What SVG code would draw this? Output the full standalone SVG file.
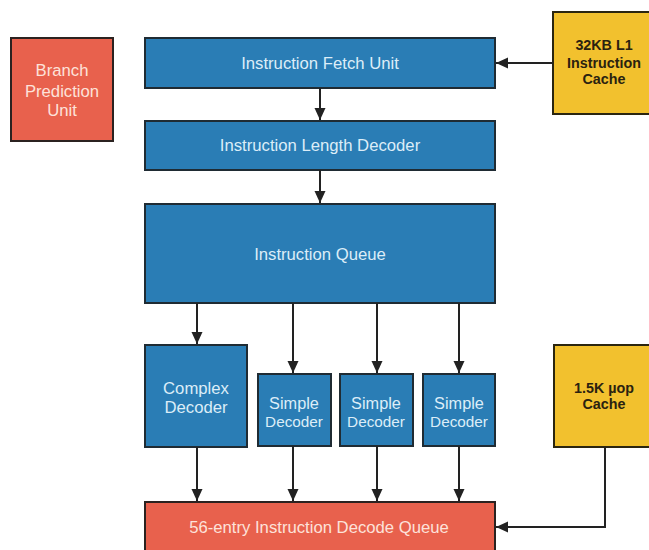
<svg xmlns="http://www.w3.org/2000/svg" width="649" height="550" viewBox="0 0 649 550">
<defs>
<marker id="ah" viewBox="0 0 12 12" refX="12" refY="6" markerWidth="12" markerHeight="12" markerUnits="userSpaceOnUse" orient="auto">
<path d="M0,0.5 L12,6 L0,11.5 z" fill="#222"/>
</marker>
<style>
.blue{fill:#2a7db5;stroke:#1f2b33;stroke-width:2}
.red{fill:#e8614d;stroke:#2b2220;stroke-width:2}
.yel{fill:#f2c12e;stroke:#2b2610;stroke-width:2}
.tb{font-family:"Liberation Sans",Arial,sans-serif;font-size:16.7px;fill:#dcedf8;text-anchor:middle}
.tr{font-family:"Liberation Sans",Arial,sans-serif;font-size:16.7px;fill:#fde2da;text-anchor:middle}
.ty{font-family:"Liberation Sans",Arial,sans-serif;font-size:14.3px;font-weight:bold;fill:#2a2210;text-anchor:middle}
.c{stroke:#222;stroke-width:2;fill:none;marker-end:url(#ah)}
</style>
</defs>
<rect width="649" height="550" fill="#fff"/>
<g id="branch"><rect class="red" x="11" y="38" width="102" height="103"/>
<text class="tr" x="62" y="76">Branch</text><text class="tr" x="62" y="97">Prediction</text><text class="tr" x="62" y="116">Unit</text></g>
<g id="fetch"><rect class="blue" x="145" y="38" width="350" height="50"/><text class="tb" x="320" y="69">Instruction Fetch Unit</text></g>
<g id="length"><rect class="blue" x="145" y="121" width="350" height="49"/><text class="tb" x="320" y="151">Instruction Length Decoder</text></g>
<g id="queue"><rect class="blue" x="145" y="204" width="350" height="99"/><text class="tb" x="320" y="260">Instruction Queue</text></g>
<g id="complex"><rect class="blue" x="145" y="345" width="102" height="102"/><text class="tb" x="196" y="394">Complex</text><text class="tb" x="196" y="413">Decoder</text></g>
<g id="simple1"><rect class="blue" x="258" y="374" width="73" height="72"/><text class="tb" x="294" y="409" style="font-size:16.3px">Simple</text><text class="tb" x="294" y="426.5" style="font-size:15.3px">Decoder</text></g>
<g id="simple2"><rect class="blue" x="340" y="374" width="73" height="72"/><text class="tb" x="376" y="409" style="font-size:16.3px">Simple</text><text class="tb" x="376" y="426.5" style="font-size:15.3px">Decoder</text></g>
<g id="simple3"><rect class="blue" x="423" y="374" width="72" height="72"/><text class="tb" x="459" y="409" style="font-size:16.3px">Simple</text><text class="tb" x="459" y="426.5" style="font-size:15.3px">Decoder</text></g>
<g id="idq"><rect class="red" x="145" y="502" width="350" height="54"/><text class="tr" x="319" y="533">56-entry Instruction Decode Queue</text></g>
<g id="l1cache"><rect class="yel" x="553" y="12" width="102" height="102"/>
<text class="ty" x="604" y="50">32KB L1</text><text class="ty" x="604" y="68">Instruction</text><text class="ty" x="604" y="84">Cache</text></g>
<g id="uopcache"><rect class="yel" x="554" y="345" width="102" height="102"/>
<text class="ty" x="604" y="393">1.5K µop</text><text class="ty" x="604" y="409">Cache</text></g>
<g id="connectors">
<line class="c" x1="553" y1="63" x2="496" y2="63"/>
<line class="c" x1="320" y1="88" x2="320" y2="120"/>
<line class="c" x1="320" y1="170" x2="320" y2="203"/>
<line class="c" x1="197" y1="303" x2="197" y2="344"/>
<line class="c" x1="293" y1="303" x2="293" y2="373"/>
<line class="c" x1="377" y1="303" x2="377" y2="373"/>
<line class="c" x1="459" y1="303" x2="459" y2="373"/>
<line class="c" x1="197" y1="447" x2="197" y2="501"/>
<line class="c" x1="293" y1="446" x2="293" y2="501"/>
<line class="c" x1="377" y1="446" x2="377" y2="501"/>
<line class="c" x1="459" y1="446" x2="459" y2="501"/>
<polyline class="c" points="605,447 605,527 496,527"/>
</g>
</svg>
